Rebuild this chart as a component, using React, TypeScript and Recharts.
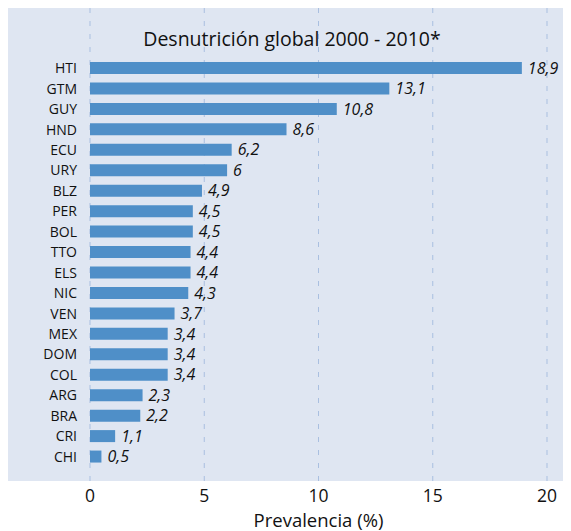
import React from 'react';
import { BarChart, Bar, XAxis, YAxis, CartesianGrid, LabelList, Customized } from 'recharts';

const countries = ['HTI', 'GTM', 'GUY', 'HND', 'ECU', 'URY', 'BLZ', 'PER', 'BOL', 'TTO', 'ELS', 'NIC', 'VEN', 'MEX', 'DOM', 'COL', 'ARG', 'BRA', 'CRI', 'CHI'];
const prevalence = [18.9, 13.1, 10.8, 8.6, 6.2, 6, 4.9, 4.5, 4.5, 4.4, 4.4, 4.3, 3.7, 3.4, 3.4, 3.4, 2.3, 2.2, 1.1, 0.5];
const xTicks = [0, 5, 10, 15, 20];
const title = 'Desnutrición global 2000 - 2010*';
const xLabel = 'Prevalencia (%)';

const data = countries.map((c, i) => ({ country: c, value: prevalence[i] }));

const FONT = '"Open Sans", sans-serif';

const Overlay = () => (
  <g>
    <text x={323} y={-1} fontFamily={FONT} fontWeight={700} fontSize={22} fill="#111">g</text>
    <text x={284} y={38} textAnchor="middle" dominantBaseline="central" fontFamily={FONT} fontSize={19.5} fill="#111">{title}</text>
  </g>
);

export default function App() {
  return (
    <div
      style={{
        position: 'relative',
        marginTop: -8,
        width: 563,
        height: 531,
        background: 'linear-gradient(to bottom, #ffffff 0px, #ffffff 8px, #dfe6f2 8px, #dfe6f2 481px, #ffffff 481px)',
      }}
    >
      <BarChart
        width={563}
        height={531}
        data={data}
        layout="vertical"
        margin={{ top: 8, right: 24, bottom: 0, left: 0 }}
        barSize={12}
      >
        <CartesianGrid horizontal={false} vertical stroke="#a9bfe0" strokeDasharray="5 8" />
        <XAxis
          type="number"
          domain={[0, 20]}
          ticks={xTicks}
          axisLine={false}
          tickLine={false}
          tickSize={0}
          tickMargin={9}
          height={50}
          tick={{ fontFamily: FONT, fontSize: 17.5, fill: '#111' }}
          label={{ value: xLabel, position: 'insideBottom', offset: 4, fontFamily: FONT, fontSize: 18.5, fill: '#111' }}
        />
        <YAxis
          type="category"
          dataKey="country"
          width={82}
          axisLine={false}
          tickLine={false}
          tickSize={0}
          tickMargin={13}
          interval={0}
          padding={{ top: 50, bottom: 14 }}
          tick={{ fontFamily: FONT, fontSize: 14, fill: '#111' }}
        />
        <Bar dataKey="value" fill="#4f8fc8" isAnimationActive={false}>
          <LabelList
            dataKey="value"
            position="right"
            offset={6}
            formatter={(v: any) => String(v).replace('.', ',')}
            style={{ fontFamily: FONT, fontSize: 16, fontStyle: 'italic', fill: '#111' }}
          />
        </Bar>
        <Customized component={Overlay} />
      </BarChart>
    </div>
  );
}
